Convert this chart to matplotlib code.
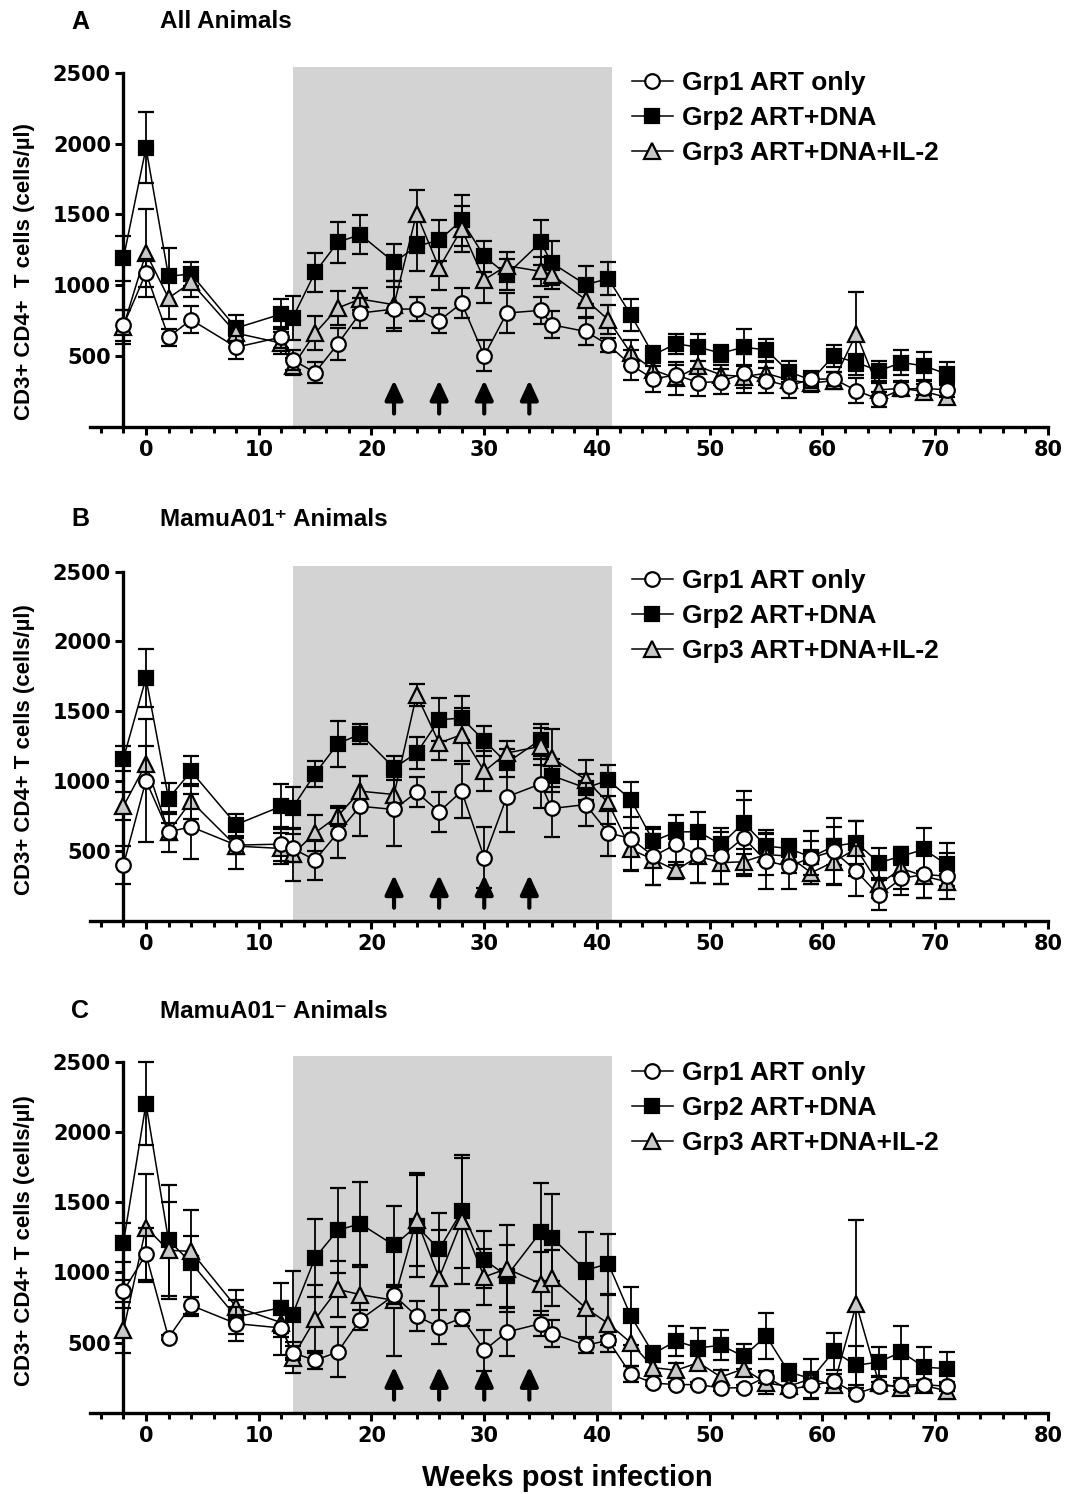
import matplotlib
matplotlib.use('Agg')
import matplotlib.pyplot as plt
from matplotlib.lines import Line2D
from matplotlib.ticker import MultipleLocator, FixedLocator

# ---------------- data ----------------
weeks = [-2, 0, 2, 4, 8, 12, 13, 15, 17, 19, 22, 24, 26, 28, 30, 32, 35, 36,
         39, 41, 43, 45, 47, 49, 51, 53, 55, 57, 59, 61, 63, 65, 67, 69, 71]

series_names = ['Grp1 ART only', 'Grp2 ART+DNA', 'Grp3 ART+DNA+IL-2']
panel_letters = ['A', 'B', 'C']
panel_titles = ['All Animals', 'MamuA01\u207a Animals', 'MamuA01\u207b Animals']
y_labels = ['CD3+ CD4+  T cells (cells/\u00b5l)', 'CD3+ CD4+ T cells (cells/\u00b5l)',
            'CD3+ CD4+ T cells (cells/\u00b5l)']
x_label = 'Weeks post infection'
y_ticks = [500, 1000, 1500, 2000, 2500]
x_ticks = [0, 10, 20, 30, 40, 50, 60, 70, 80]
arrow_weeks = [22, 26, 30, 34]
treatment_window = (13, 41.3)

# Panel A: all animals
a_grp1 = [717, 1087, 634, 757, 563, 634, 474, 384, 585, 804, 832, 832, 750, 874, 502, 804, 823, 721,
          674, 580, 438, 339, 368, 313, 321, 379, 328, 290, 337, 339, 257, 196, 266, 273, 262]
a_grp1_err = [110, 100, 60, 94, 82, 75, 70, 75, 110, 106, 158, 87, 87, 106, 110, 141, 94, 94,
              94, 50, 106, 90, 70, 94, 87, 137, 85, 82, 60, 50, 90, 52, 50, 50, 50]
a_grp2 = [1190, 1970, 1063, 1080, 698, 797, 768, 1091, 1303, 1358, 1162, 1275, 1318, 1459, 1204, 1075, 1303, 1157,
          1004, 1047, 792, 509, 587, 563, 521, 563, 544, 391, 330, 502, 455, 396, 455, 431, 375]
a_grp2_err = [158, 250, 200, 82, 94, 106, 153, 137, 144, 137, 130, 177, 146, 181, 111, 110, 158, 153,
              134, 115, 113, 60, 71, 94, 59, 130, 75, 75, 60, 78, 60, 71, 87, 97, 82]
a_grp3 = [709, 1228, 910, 1020, 662, 592, 427, 662, 839, 903, 863, 1506, 1122, 1398, 1039, 1138, 1098, 1075,
          898, 757, 521, 403, 344, 427, 368, 356, 379, 332, 309, 328, 658, 262, 273, 250, 210]
a_grp3_err = [120, 311, 150, 100, 70, 80, 60, 118, 118, 78, 165, 165, 153, 160, 165, 100, 100, 100,
              120, 101, 94, 70, 118, 118, 70, 80, 80, 60, 60, 60, 292, 50, 50, 50, 40]

# Panel B: MamuA01+ animals
b_grp1 = [400, 1005, 638, 674, 543, 550, 519, 436, 631, 821, 798, 921, 781, 929, 452, 888, 981, 805,
          833, 631, 590, 464, 548, 471, 464, 595, 429, 393, 452, 500, 357, 183, 305, 333, 321]
b_grp1_err = [138, 440, 143, 233, 174, 120, 100, 143, 179, 214, 262, 107, 145, 195, 219, 252, 176, 205,
              155, 167, 229, 207, 150, 198, 202, 274, 202, 167, 120, 240, 179, 107, 121, 167, 167]
b_grp2 = [1162, 1738, 876, 1071, 690, 821, 810, 1055, 1267, 1338, 1095, 1202, 1440, 1452, 1290, 1131, 1298, 1040,
          952, 1007, 869, 571, 638, 638, 548, 702, 536, 519, 457, 536, 560, 417, 464, 512, 405]
b_grp2_err = [88, 210, 112, 107, 79, 160, 150, 93, 162, 71, 88, 114, 155, 160, 107, 100, 114, 120,
              100, 112, 126, 90, 119, 143, 88, 226, 112, 64, 190, 138, 155, 107, 64, 155, 155]
b_grp3 = [821, 1124, 638, 857, 536, 519, 476, 631, 750, 929, 905, 1619, 1274, 1333, 1071, 1202, 1250, 1167,
          1012, 845, 512, 440, 362, 464, 417, 424, 476, 464, 345, 424, 519, 262, 376, 321, 281]
b_grp3_err = [100, 130, 60, 124, 60, 110, 190, 131, 71, 112, 124, 79, 119, 190, 143, 88, 131, 207,
              143, 150, 150, 183, 60, 190, 155, 90, 150, 120, 83, 162, 195, 100, 150, 155, 55]

# Panel C: MamuA01- animals
c_grp1 = [868, 1129, 536, 766, 636, 605, 429, 375, 434, 664, 837, 690, 612, 676, 446, 576, 636, 565,
          482, 517, 275, 213, 202, 202, 178, 180, 256, 166, 197, 225, 138, 190, 197, 202, 190]
c_grp1_err = [80, 185, 20, 59, 121, 194, 50, 64, 178, 71, 60, 109, 119, 55, 147, 173, 88, 95,
              55, 30, 57, 20, 20, 20, 20, 20, 40, 20, 90, 50, 20, 30, 30, 30, 30]
c_grp2 = [1212, 2201, 1229, 1070, 683, 750, 700, 1105, 1300, 1347, 1193, 1330, 1165, 1435, 1091, 975, 1288, 1248,
          1015, 1063, 690, 422, 512, 463, 482, 403, 548, 292, 244, 439, 339, 363, 434, 327, 315]
c_grp2_err = [140, 296, 396, 377, 120, 178, 308, 277, 304, 296, 280, 360, 261, 400, 202, 220, 348, 308,
              273, 213, 206, 52, 107, 145, 107, 90, 164, 60, 142, 130, 140, 107, 183, 142, 119]
c_grp3 = [588, 1319, 1158, 1150, 754, 643, 394, 667, 880, 842, 802, 1376, 961, 1366, 968, 1027, 920, 961,
          747, 636, 500, 323, 304, 358, 256, 315, 213, 190, 244, 197, 773, 213, 178, 197, 157]
c_grp3_err = [160, 384, 344, 110, 123, 100, 109, 242, 200, 197, 400, 332, 339, 450, 200, 308, 225, 197,
              206, 202, 168, 40, 50, 50, 50, 50, 76, 40, 40, 40, 598, 50, 40, 40, 55]

panel_data = [
    [(a_grp1, a_grp1_err), (a_grp2, a_grp2_err), (a_grp3, a_grp3_err)],
    [(b_grp1, b_grp1_err), (b_grp2, b_grp2_err), (b_grp3, b_grp3_err)],
    [(c_grp1, c_grp1_err), (c_grp2, c_grp2_err), (c_grp3, c_grp3_err)],
]

# ---------------- style ----------------
W, H = 1069, 1494
TXT = ['Liberation Sans', 'DejaVu Sans']
TICKFONT = 'DejaVu Sans'
shade_color = '#d3d3d3'
tri_color = '#c8c8c8'
marker_styles = [
    dict(marker='o', mfc='white', ms=10.5),
    dict(marker='s', mfc='black', ms=9.5),
    dict(marker='^', mfc=tri_color, ms=11.5),
]
draw_order = [1, 2, 0]

# axes pixel geometry: (top, bottom)
panel_px = [(67, 427), (566, 921), (1056, 1413)]
left_px, right_px = 89.6, 1048
title_y = [22, 519, 1011]
legend_top = [71, 569, 1061]
ylabel_center = [272, 750, 1241]

fig = plt.figure(figsize=(W / 100, H / 100), dpi=100)

for p in range(3):
    top, bot = panel_px[p]
    ax = fig.add_axes([left_px / W, 1 - bot / H, (right_px - left_px) / W, (bot - top) / H])
    ax.set_xlim(-5, 80)
    ax.set_ylim(0, 2540)
    ax.axvspan(treatment_window[0], treatment_window[1], color=shade_color, zorder=0, lw=0)

    for i in draw_order:
        vals, errs = panel_data[p][i]
        st = marker_styles[i]
        ax.errorbar(weeks, vals, yerr=errs, color='black', lw=1.1,
                    marker=st['marker'], ms=st['ms'], mfc=st['mfc'], mec='black', mew=1.6,
                    ecolor='black', elinewidth=1.3, capsize=6, capthick=1.3, zorder=3 + draw_order.index(i))

    for w in arrow_weeks:
        ax.annotate('', xy=(w, 330), xytext=(w, 95),
                    arrowprops=dict(arrowstyle='-|>,head_width=0.3,head_length=0.65',
                                    lw=3, color='black', shrinkA=0, shrinkB=0,
                                    mutation_scale=18), zorder=6)

    for s in ['top', 'right']:
        ax.spines[s].set_visible(False)
    ax.spines['left'].set_position(('data', -2))
    ax.spines['left'].set_bounds(0, 2500)
    ax.spines['left'].set_linewidth(2.4)
    ax.spines['bottom'].set_linewidth(2.4)
    ax.set_yticks(y_ticks)
    ax.set_xticks(x_ticks)
    ax.xaxis.set_minor_locator(MultipleLocator(2))
    ax.tick_params(axis='both', which='major', direction='out', length=6, width=2.2,
                   labelsize=15, pad=3)
    ax.tick_params(axis='x', which='minor', direction='out', length=4, width=2.2)
    ax.tick_params(axis='x', which='major', pad=3)
    for lab in ax.get_xticklabels() + ax.get_yticklabels():
        lab.set_fontfamily(TICKFONT)
        lab.set_fontweight('bold')

    handles = []
    for i in range(3):
        st = marker_styles[i]
        handles.append(Line2D([], [], color='black', lw=1.1, marker=st['marker'], ms=st['ms'],
                              mfc=st['mfc'], mec='black', mew=1.6))
    leg = ax.legend(handles, series_names, loc='upper left',
                    bbox_to_anchor=(632 / W, 1 - legend_top[p] / H), bbox_transform=fig.transFigure,
                    frameon=False, borderpad=0, borderaxespad=0, handlelength=1.55,
                    handletextpad=0.35, labelspacing=0.42,
                    prop=dict(family=TXT, weight='bold', size=19))

    fig.text(80 / W, 1 - title_y[p] / H, panel_letters[p], family=TXT, weight='bold',
             fontsize=18, ha='center', va='center')
    fig.text(160 / W, 1 - title_y[p] / H, panel_titles[p], family=TXT, weight='bold',
             fontsize=17.5, ha='left', va='center')
    fig.text(25 / W, 1 - ylabel_center[p] / H, y_labels[p], family=TXT, weight='bold',
             fontsize=16, rotation=90, ha='center', va='center')

fig.text(567 / W, 1 - 1478 / H, x_label, family=TXT, weight='bold', fontsize=21,
         ha='center', va='center')

fig.savefig('out.png', dpi=100)
